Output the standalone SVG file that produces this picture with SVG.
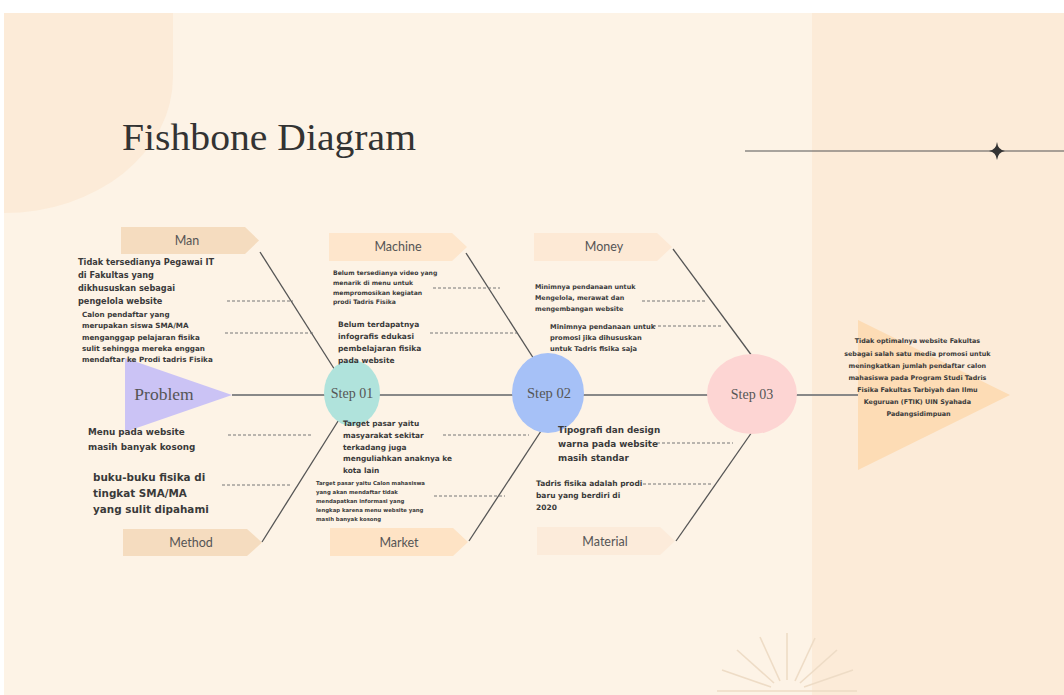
<svg xmlns="http://www.w3.org/2000/svg" width="1064" height="695" viewBox="0 0 1064 695">
<style>
.bone{stroke:#555;stroke-width:1.3;fill:none}
.dash{stroke:#777;stroke-width:1;stroke-dasharray:3 2;fill:none}
.cat{font-family:Lato,"Liberation Sans",sans-serif;font-size:12.5px;fill:#555;text-anchor:middle}
.step{font-family:"Liberation Serif",serif;font-size:14px;fill:#555;text-anchor:middle}
.t{font-family:"DejaVu Sans",Lato,sans-serif;font-weight:700;fill:#3a3a3a}
.ray{stroke:#EEDCC6;stroke-width:1.6;fill:none}
</style>
<rect x="0" y="0" width="1064" height="695" fill="#ffffff"/>
<rect x="4" y="13" width="1060" height="682" fill="#FDF3E6"/>
<path d="M4,13 H173 V77 A169 136 0 0 1 4 213 Z" fill="#FCEBD8"/>
<rect x="812" y="13" width="252" height="682" fill="#FCEBD8"/>
<text x="122" y="150" font-family="Liberation Serif,serif" font-size="37" fill="#333" textLength="294" lengthAdjust="spacingAndGlyphs">Fishbone Diagram</text>
<line x1="745" y1="151" x2="1064" y2="151" stroke="#555" stroke-width="1.2"/>
<path d="M997,142 Q998,150 1005,151 Q998,152 997,160 Q996,152 989,151 Q996,150 997,142 Z" fill="#333"/>
<g id="sunburst">
<line class="ray" x1="717" y1="691" x2="857" y2="691"/>
<line class="ray" x1="787" y1="633" x2="787" y2="680"/>
<line class="ray" x1="760" y1="637" x2="780" y2="681"/>
<line class="ray" x1="737" y1="650" x2="774" y2="683"/>
<line class="ray" x1="722" y1="670" x2="771" y2="687"/>
<line class="ray" x1="815" y1="638" x2="795" y2="681"/>
<line class="ray" x1="837" y1="650" x2="800" y2="683"/>
<line class="ray" x1="853" y1="670" x2="804" y2="687"/>
</g>
<g id="connectors">
<line x1="232" y1="395" x2="858" y2="395" stroke="#888" stroke-width="2"/>
<line class="bone" x1="260" y1="252" x2="340" y2="378"/>
<line class="bone" x1="466" y1="253" x2="541" y2="370"/>
<line class="bone" x1="673" y1="249" x2="755" y2="360"/>
<line class="bone" x1="262" y1="542" x2="340" y2="418"/>
<line class="bone" x1="469" y1="541" x2="543" y2="428"/>
<line class="bone" x1="676" y1="541" x2="752" y2="432"/>
<line class="dash" x1="227" y1="301" x2="293" y2="301"/>
<line class="dash" x1="225" y1="333" x2="313" y2="333"/>
<line class="dash" x1="433" y1="288" x2="500" y2="288"/>
<line class="dash" x1="430" y1="333" x2="517" y2="333"/>
<line class="dash" x1="642" y1="301" x2="707" y2="301"/>
<line class="dash" x1="653" y1="326" x2="723" y2="326"/>
<line class="dash" x1="228" y1="435" x2="313" y2="435"/>
<line class="dash" x1="222" y1="485" x2="292" y2="485"/>
<line class="dash" x1="443" y1="435" x2="529" y2="435"/>
<line class="dash" x1="434" y1="496" x2="505" y2="496"/>
<line class="dash" x1="657" y1="443" x2="733" y2="443"/>
<line class="dash" x1="643" y1="484" x2="712" y2="484"/>
</g>
<g id="problem">
<path d="M125,358 L232,395 L125,432 Z" fill="#CBC3F5"/>
<text x="164" y="400" class="step" style="font-size:17.5px">Problem</text>
</g>
<g id="step01">
<ellipse cx="352" cy="393" rx="28" ry="33" fill="#B0E3DC"/>
<text x="352" y="398" class="step">Step 01</text>
</g>
<g id="step02">
<ellipse cx="548" cy="393" rx="36" ry="40" fill="#A6C1F7"/>
<text x="549" y="398" class="step" style="font-size:14.5px">Step 02</text>
</g>
<g id="step03">
<ellipse cx="752" cy="394" rx="45" ry="40" fill="#FDD5D3"/>
<text x="752" y="399" class="step">Step 03</text>
</g>
<g id="head">
<path d="M858,320 L1010,395 L858,470 Z" fill="#FDDCB5"/>
<text class="t" font-size="6.4" text-anchor="middle" fill="#4a4a4a">
<tspan x="918.5" y="343">Tidak optimalnya website Fakultas</tspan>
<tspan x="918.5" y="355.5">sebagai salah satu media promosi untuk</tspan>
<tspan x="918.5" y="368">meningkatkan jumlah pendaftar calon</tspan>
<tspan x="918.5" y="380">mahasiswa pada Program Studi Tadris</tspan>
<tspan x="918.5" y="392">Fisika Fakultas Tarbiyah dan Ilmu</tspan>
<tspan x="918.5" y="404">Keguruan (FTIK) UIN Syahada</tspan>
<tspan x="918.5" y="416">Padangsidimpuan</tspan>
</text>
</g>
<g id="man">
<path d="M121,227 H245 L259,240.5 L245,254 H121 Z" fill="#F5DCBF"/>
<text x="187" y="245" class="cat">Man</text>
<text class="t" font-size="8.2">
<tspan x="78" y="265">Tidak tersedianya Pegawai IT</tspan>
<tspan x="78" y="278">di Fakultas yang</tspan>
<tspan x="78" y="291">dikhususkan sebagai</tspan>
<tspan x="78" y="304">pengelola website</tspan>
</text>
<text class="t" font-size="7.2">
<tspan x="82" y="316.5">Calon pendaftar yang</tspan>
<tspan x="82" y="328">merupakan siswa SMA/MA</tspan>
<tspan x="82" y="339.5">menganggap pelajaran fisika</tspan>
<tspan x="82" y="350.5">sulit sehingga mereka enggan</tspan>
<tspan x="82" y="361.5">mendaftar ke Prodi tadris Fisika</tspan>
</text>
</g>
<g id="machine">
<path d="M329,233 H452 L467,247 L452,261 H329 Z" fill="#FEE6CC"/>
<text x="398" y="251" class="cat">Machine</text>
<text class="t" font-size="6.1">
<tspan x="333" y="275">Belum tersedianya video yang</tspan>
<tspan x="333" y="285">menarik di menu untuk</tspan>
<tspan x="333" y="294.5">mempromosikan kegiatan</tspan>
<tspan x="333" y="304">prodi Tadris Fisika</tspan>
</text>
<text class="t" font-size="7.5">
<tspan x="338" y="327">Belum terdapatnya</tspan>
<tspan x="338" y="339">infografis edukasi</tspan>
<tspan x="338" y="351">pembelajaran fisika</tspan>
<tspan x="338" y="363">pada website</tspan>
</text>
</g>
<g id="money">
<path d="M534,233 H657 L672,247 L657,261 H534 Z" fill="#FDE9D5"/>
<text x="604" y="251" class="cat">Money</text>
<text class="t" font-size="6.4">
<tspan x="535" y="288.5">Minimnya pendanaan untuk</tspan>
<tspan x="535" y="299.5">Mengelola, merawat dan</tspan>
<tspan x="535" y="310.5">mengembangan website</tspan>
</text>
<text class="t" font-size="6.7">
<tspan x="550" y="328.5">Minimnya pendanaan untuk</tspan>
<tspan x="550" y="339.5">promosi jika dihususkan</tspan>
<tspan x="550" y="350.5">untuk Tadris fisika saja</tspan>
</text>
</g>
<g id="method">
<path d="M123,529 H247 L262,542.5 L247,556 H123 Z" fill="#F5DCBF"/>
<text x="191" y="546.5" class="cat">Method</text>
<text class="t" font-size="8.8">
<tspan x="88" y="435">Menu pada website</tspan>
<tspan x="88" y="450">masih banyak kosong</tspan>
</text>
<text class="t" font-size="10.4">
<tspan x="93" y="481">buku-buku fisika di</tspan>
<tspan x="93" y="497">tingkat SMA/MA</tspan>
<tspan x="93" y="513">yang sulit dipahami</tspan>
</text>
</g>
<g id="market">
<path d="M330,528 H453 L468,542 L453,556 H330 Z" fill="#FEE3C5"/>
<text x="399" y="546.5" class="cat">Market</text>
<text class="t" font-size="7.4">
<tspan x="343" y="426">Target pasar yaitu</tspan>
<tspan x="343" y="438">masyarakat sekitar</tspan>
<tspan x="343" y="449.5">terkadang juga</tspan>
<tspan x="343" y="461">menguliahkan anaknya ke</tspan>
<tspan x="343" y="473">kota lain</tspan>
</text>
<text class="t" font-size="5.35">
<tspan x="316" y="485">Target pasar yaitu Calon mahasiswa</tspan>
<tspan x="316" y="493.5">yang akan mendaftar tidak</tspan>
<tspan x="316" y="502.5">mendapatkan informasi yang</tspan>
<tspan x="316" y="511.5">lengkap karena menu website yang</tspan>
<tspan x="316" y="520.5">masih banyak kosong</tspan>
</text>
</g>
<g id="material">
<path d="M537,527 H660 L675,541 L660,555 H537 Z" fill="#FCEBDA"/>
<text x="605" y="545.5" class="cat">Material</text>
<text class="t" font-size="8.8">
<tspan x="558" y="433">Tipografi dan design</tspan>
<tspan x="558" y="447">warna pada website</tspan>
<tspan x="558" y="461">masih standar</tspan>
</text>
<text class="t" font-size="7.5">
<tspan x="536" y="485.5">Tadris fisika adalah prodi</tspan>
<tspan x="536" y="497.5">baru yang berdiri di</tspan>
<tspan x="536" y="509.5">2020</tspan>
</text>
</g>
</svg>
